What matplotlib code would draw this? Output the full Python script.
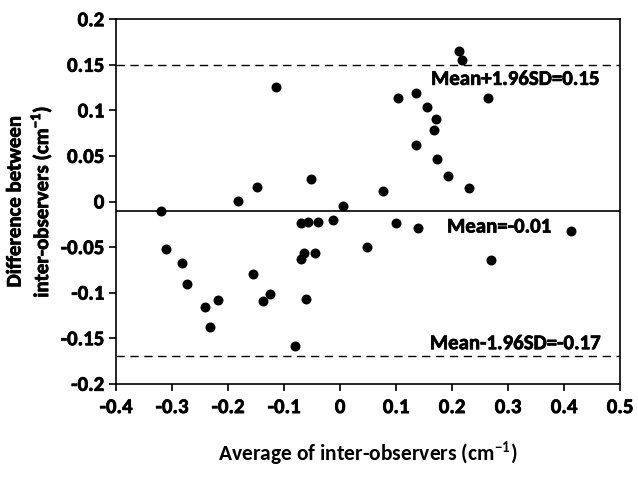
import numpy as np
import matplotlib
matplotlib.use('Agg')
import matplotlib.pyplot as plt
import matplotlib.patheffects as pe

plt.rcParams['font.family'] = ['Carlito', 'Lato', 'DejaVu Sans']
plt.rcParams['mathtext.fontset'] = 'custom'
plt.rcParams['mathtext.rm'] = 'Carlito:bold'
plt.rcParams['mathtext.bf'] = 'Carlito:bold'

# Bland-Altman data
avg = [-0.114, -0.149, -0.052, -0.182,
       0.212, 0.217, 0.103, 0.135, 0.264, 0.155, 0.171, 0.168, 0.135, 0.173,
       0.193, 0.077, 0.230,
       -0.320, -0.311, -0.282, -0.274, -0.241, -0.218, -0.232, -0.156, -0.138,
       -0.126, -0.081, -0.070, -0.058, -0.039, -0.012, 0.006,
       -0.070, -0.064, -0.045, -0.061, 0.048,
       0.100, 0.139, 0.269, 0.413]
diff = [0.126, 0.016, 0.025, 0.001,
        0.165, 0.155, 0.114, 0.119, 0.114, 0.104, 0.090, 0.078, 0.062, 0.047,
        0.028, 0.011, 0.015,
        -0.010, -0.052, -0.067, -0.090, -0.116, -0.108, -0.138, -0.079, -0.109,
        -0.102, -0.159, -0.024, -0.023, -0.023, -0.020, -0.005,
        -0.063, -0.057, -0.056, -0.107, -0.050,
        -0.024, -0.029, -0.064, -0.032]

mean_diff = -0.01
upper = 0.15
lower = -0.17

bold = [pe.withStroke(linewidth=0.5, foreground='black')]

fig = plt.figure(figsize=(6.38, 4.81), dpi=100)
ax = fig.add_axes([0.182, 0.200, 0.790, 0.758])

ax.scatter(avg, diff, s=38, color='black', zorder=3)
ax.axhline(mean_diff, color='black', lw=1.2)
ax.axhline(upper, color='black', lw=1.0, ls=(0, (6, 4)))
ax.axhline(lower, color='black', lw=1.0, ls=(0, (6, 4)))

for x, y, s in [(0.313, 0.134, 'Mean+1.96SD=0.15'),
                (0.284, -0.028, 'Mean=-0.01'),
                (0.313, -0.156, 'Mean-1.96SD=-0.17')]:
    ax.text(x, y, s, ha='center', va='center', fontsize=15,
            fontweight='bold', path_effects=bold)

ax.set_xlim(-0.4, 0.5)
ax.set_ylim(-0.2, 0.2)
xticks = np.round(np.arange(-0.4, 0.51, 0.1), 1)
yticks = np.round(np.arange(-0.2, 0.201, 0.05), 2)
ax.set_xticks(xticks)
ax.set_xticklabels(['0' if t == 0 else f'{t:g}' for t in xticks])
ax.set_yticks(yticks)
ax.set_yticklabels(['0' if t == 0 else f'{t:g}' for t in yticks])
ax.tick_params(direction='out', length=5, width=1.2, labelsize=15)
ax.tick_params(axis='x', pad=6)
for lab in ax.get_xticklabels() + ax.get_yticklabels():
    lab.set_fontweight('bold')
    lab.set_path_effects(bold)
for sp in ax.spines.values():
    sp.set_linewidth(1.2)

ax.set_xlabel('Average of inter-observers (cm$^{-1}$)', fontsize=15.5,
              fontweight='bold', labelpad=16)
ax.set_ylabel('Difference between\ninter-observers (cm$^{-1}$)',
              fontsize=15, fontweight='bold', labelpad=4)
ax.yaxis.label.set_path_effects(bold)

fig.savefig('out.png', dpi=100)
